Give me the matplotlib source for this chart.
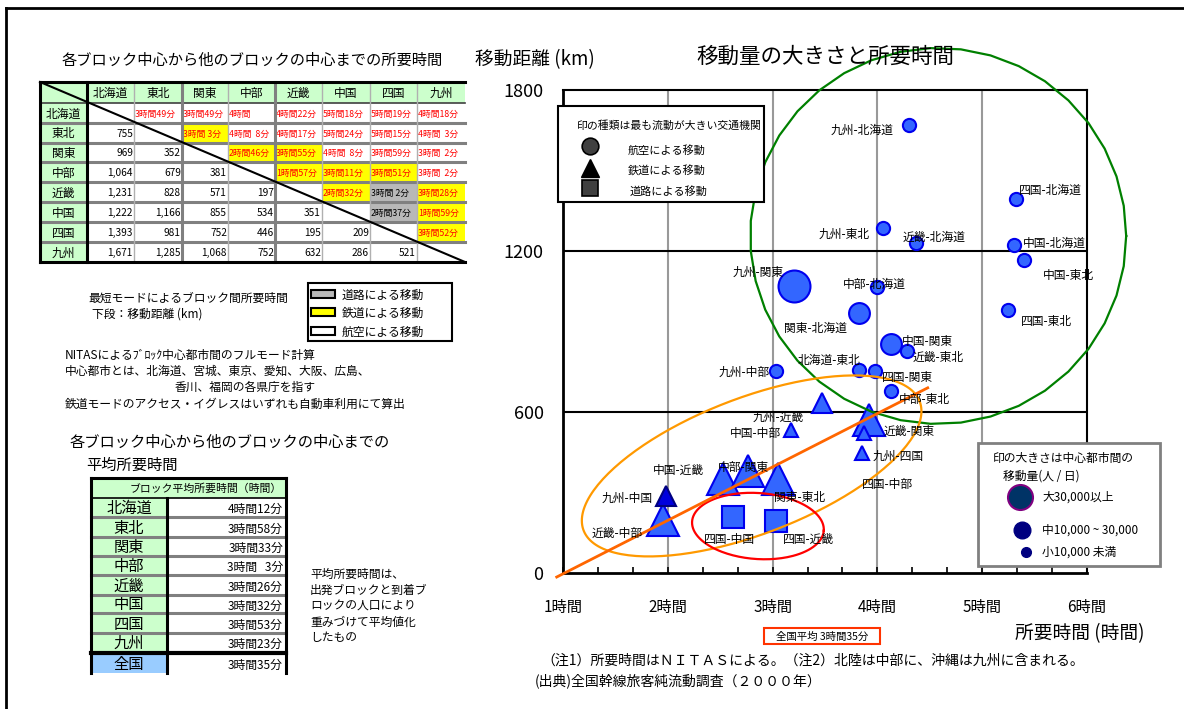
import numpy as np
import matplotlib
matplotlib.use('Agg')
import matplotlib.pyplot as plt
from matplotlib.patches import Rectangle

plt.rcParams['font.family'] = ['Noto Sans CJK JP', 'DejaVu Sans']

# ---------------- data ----------------
blocks = ['北海道', '東北', '関東', '中部', '近畿', '中国', '四国', '九州']

# upper triangle: shortest-mode travel time (row -> column)
times = [
    ['', '3時間49分', '3時間49分', '4時間', '4時間22分', '5時間18分', '5時間19分', '4時間18分'],
    ['', '', '3時間 3分', '4時間  8分', '4時間17分', '5時間24分', '5時間15分', '4時間  3分'],
    ['', '', '', '2時間46分', '3時間55分', '4時間  8分', '3時間59分', '3時間  2分'],
    ['', '', '', '', '1時間57分', '3時間11分', '3時間51分', '3時間  2分'],
    ['', '', '', '', '', '2時間32分', '3時間 2分', '3時間28分'],
    ['', '', '', '', '', '', '2時間37分', '1時間59分'],
    ['', '', '', '', '', '', '', '3時間52分'],
]
# shortest mode per cell: A air, R rail, D road
modes = [
    '.AAAAAAA',
    '..RAAAAA',
    '...RRAAA',
    '....RRRA',
    '.....RDR',
    '......DR',
    '.......R',
]
# lower triangle: distance (km)
dists = [
    [],
    [755],
    [969, 352],
    [1064, 679, 381],
    [1231, 828, 571, 197],
    [1222, 1166, 855, 534, 351],
    [1393, 981, 752, 446, 195, 209],
    [1671, 1285, 1068, 752, 632, 286, 521],
]
avg_time = ['4時間12分', '3時間58分', '3時間33分', '3時間   3分', '3時間26分',
            '3時間32分', '3時間53分', '3時間23分']
national_avg = '3時間35分'

# scatter: pairs, travel time (h), distance (km), main mode, flow class
pairs = ['九州-北海道', '四国-北海道', '中国-北海道', '中国-東北', '四国-東北', '九州-東北',
         '近畿-北海道', '中部-北海道', '九州-関東', '関東-北海道', '中国-関東', '近畿-東北',
         '北海道-東北', '四国-関東', '中部-東北', '九州-中部',
         '九州-近畿', '中国-中部', '近畿-関東', '九州-四国', '四国-中部', '中国-近畿',
         '中部-関東', '関東-東北', '九州-中国', '近畿-中部',
         '四国-中国', '四国-近畿']
hours = [4.30, 5.32, 5.30, 5.40, 5.25, 4.05, 4.37, 4.00, 3.20, 3.82, 4.13, 4.28,
         3.82, 3.98, 4.13, 3.03,
         3.47, 3.18, 3.92, 3.87, 3.85, 2.53, 2.77, 3.05, 1.98, 1.95,
         2.62, 3.03]
km = [1671, 1393, 1222, 1166, 981, 1285, 1231, 1064, 1068, 969, 855, 828,
      755, 752, 679, 752,
      632, 534, 571, 521, 446, 351, 381, 352, 286, 197,
      209, 195]
mode = ['air'] * 16 + ['rail'] * 10 + ['road'] * 2
flow = ['小'] * 8 + ['大', '中', '中'] + ['小'] * 5 + \
       ['中', '小', '大', '小', '小', '大', '大', '大', '中', '大'] + ['中', '中']

# hand-drawn trend line (h, km)
trend_h = [0.94, 4.48]
trend_km = [-15, 690]

# ---------------- styles / positions ----------------
W, H = 1184, 709
MARK = {'air': 'o', 'rail': '^', 'road': 's'}
SIZE = {'air': {'大': 23, '中': 15, '小': 9.5},
        'rail': {'大': 23, '中': 15, '小': 10},
        'road': {'大': 23, '中': 16, '小': 10}}
# label offsets in px: (left edge dx, centre dy downward)
LAB = {'九州-北海道': (-78, 6), '四国-北海道': (3, -9), '中国-北海道': (9, -2),
       '中国-東北': (19, 15), '四国-東北': (12, 12), '九州-東北': (-64, 6),
       '近畿-北海道': (-14, -5), '中部-北海道': (-35, -3), '九州-関東': (-61, -14),
       '関東-北海道': (-75, 15), '中国-関東': (11, -2), '近畿-東北': (6, 7),
       '北海道-東北': (-61, -10), '四国-関東': (7, 6), '中部-東北': (8, 9),
       '九州-中部': (-57, 1), '九州-近畿': (-69, 14), '中国-中部': (-62, 4),
       '近畿-関東': (15, 12), '九州-四国': (9, 23), '四国-中部': (0, 31),
       '中国-近畿': (-70, -8), '中部-関東': (-31, -3), '関東-東北': (-4, 19),
       '九州-中国': (-64, 2), '近畿-中部': (-71, 13), '四国-中国': (-29, 23),
       '四国-近畿': (7, 19)}

fig = plt.figure(figsize=(W / 100, H / 100), dpi=100)

# ---------------- scatter ----------------
AX_L, AX_R, AX_T, AX_B = 563, 1087, 90, 573
ax = fig.add_axes([AX_L / W, (H - AX_B) / H, (AX_R - AX_L) / W, (AX_B - AX_T) / H], zorder=1)
ax.set_xlim(1, 6)
ax.set_ylim(0, 1800)
PX_H = (AX_R - AX_L) / 5.0
PX_KM = (AX_B - AX_T) / 1800.0

for v in [2, 3, 4, 5]:
    ax.axvline(v, color='#999999', lw=1.5, zorder=1)
for v in [600, 1200]:
    ax.axhline(v, color='black', lw=1.5, zorder=1)

ax.set_xticks(range(1, 7))
ax.set_xticklabels(['%d時間' % i for i in range(1, 7)], fontsize=11)
ax.set_xticks(np.arange(1, 6.01, 1 / 3.0), minor=True)
ax.tick_params(axis='x', which='both', direction='in', length=4, width=1.2, pad=19)
ax.set_yticks([0, 600, 1200, 1800])
ax.set_yticklabels(['0', '600', '1200', '1800'], fontsize=13)
ax.tick_params(axis='y', length=0, pad=14)
for s in ['left', 'bottom']:
    ax.spines[s].set_linewidth(2)
for s in ['top', 'right']:
    ax.spines[s].set_linewidth(1.5)

order = sorted(range(len(pairs)), key=lambda i: -SIZE[mode[i]][flow[i]])
for z, i in enumerate(order):
    fc, ec = '#3366FF', '#0000EE'
    if pairs[i] == '九州-中国':
        fc, ec = '#0000DD', '#000080'
    ax.plot(hours[i], km[i], marker=MARK[mode[i]], ms=SIZE[mode[i]][flow[i]],
            mfc=fc, mec=ec, mew=1.5, ls='none', zorder=3 + z * 0.01, clip_on=False)
    dx, dy = LAB[pairs[i]]
    ax.annotate(pairs[i], (hours[i], km[i]), xytext=(dx, -dy), textcoords='offset pixels',
                ha='left', va='center', fontsize=8.5, zorder=6)


def ring(cx, cy, a, b, ang, color, n=200):
    t = np.linspace(0, 2 * np.pi, n)
    th = np.radians(ang)
    xp = a * np.cos(t) * np.cos(th) - b * np.sin(t) * np.sin(th)
    yp = a * np.cos(t) * np.sin(th) + b * np.sin(t) * np.cos(th)
    ax.plot(cx + xp / PX_H, cy + yp / PX_KM, color=color, lw=1.6, clip_on=False, zorder=5)


ring(4.58, 1256, 188, 188, 0, '#008000', n=40)
ring(2.80, 399, 180, 68, 21, '#FF9900')
ring(2.86, 175, 66, 33, -4, '#FF0000')
ax.plot(trend_h, trend_km, color='#FF6600', lw=2, clip_on=False, zorder=5)

# ---------------- overlay (pixel coords) ----------------
ov = fig.add_axes([0, 0, 1, 1], zorder=5)
ov.set_xlim(0, W)
ov.set_ylim(H, 0)
ov.axis('off')
ov.patch.set_alpha(0)

ov.plot([6, 6], [H, 8], color='black', lw=2)
ov.plot([6, W], [8, 8], color='black', lw=2)

ov.text(62, 60, '各ブロック中心から他のブロックの中心までの所要時間', fontsize=11, va='center')
ov.text(475, 60, '移動距離 (km)', fontsize=13.5, va='center')
ov.text(825, 57, '移動量の大きさと所要時間', fontsize=15.5, va='center', ha='center')
ov.text(1015, 634, '所要時間 (時間)', fontsize=13.5, va='center')

# table 1
xs = [40, 87, 134, 182, 228, 275, 322, 370, 417, 465]
ys = [82, 103, 123, 143, 162, 182, 202, 222, 242, 262]
GREEN = '#CCFFCC'
fillc = {'A': 'white', 'R': '#FFFF00', 'D': '#B8B8B8'}
ov.add_patch(Rectangle((xs[0], ys[0]), xs[1] - xs[0], ys[1] - ys[0], fc=GREEN, lw=0))
for j, b in enumerate(blocks):
    ov.add_patch(Rectangle((xs[j + 1], ys[0]), xs[j + 2] - xs[j + 1], ys[1] - ys[0], fc=GREEN, lw=0))
    ov.text((xs[j + 1] + xs[j + 2]) / 2, (ys[0] + ys[1]) / 2 + 1, b, ha='center', va='center', fontsize=8.5)
    ov.add_patch(Rectangle((xs[0], ys[j + 1]), xs[1] - xs[0], ys[j + 2] - ys[j + 1], fc=GREEN, lw=0))
    ov.text((xs[0] + xs[1]) / 2, (ys[j + 1] + ys[j + 2]) / 2 + 1, b, ha='center', va='center', fontsize=8.5)
for i in range(7):
    for j in range(i + 1, 8):
        m = modes[i][j]
        x0, y0 = xs[j + 1], ys[i + 1]
        ov.add_patch(Rectangle((x0, y0), xs[j + 2] - x0, ys[i + 2] - y0, fc=fillc[m], lw=0))
        ov.text(x0 + 1, (y0 + ys[i + 2]) / 2 + 1, times[i][j], ha='left', va='center',
                fontsize=6.3, color='black' if m == 'D' else '#FF0000')
for i in range(8):
    for j, d in enumerate(dists[i]):
        ov.text(xs[j + 2] - 1, (ys[i + 1] + ys[i + 2]) / 2 + 1, '{:,}'.format(d),
                ha='right', va='center', fontsize=7.3)
for y in ys[2:-1]:
    ov.plot([xs[0], xs[-1]], [y, y], color='#808080', lw=2.2, zorder=3)
ov.plot([xs[0], xs[-1]], [ys[1], ys[1]], color='#404040', lw=1.2, zorder=3)
for k, x in enumerate(xs[2:-1]):
    thick = x in (182, 275)
    ov.plot([x, x], [ys[0], ys[-1]], color='#808080' if thick else '#B0B0B0',
            lw=2.2 if thick else 1, zorder=3)
ov.plot([xs[1], xs[1]], [ys[0], ys[-1]], color='black', lw=2.2, zorder=4)
ov.plot([xs[0], xs[-1]], [ys[0], ys[0]], color='black', lw=2.2, zorder=4)
ov.plot([xs[0], xs[-1]], [ys[-1], ys[-1]], color='black', lw=2.2, zorder=4)
ov.plot([xs[0], xs[0]], [ys[0], ys[-1]], color='black', lw=2.2, zorder=4)
ov.plot([xs[0], xs[-1]], [ys[0], ys[-1]], color='black', lw=1.5, zorder=4)

# legend of table 1
ov.text(88, 298, '最短モードによるブロック間所要時間', fontsize=8.5, va='center')
ov.text(92, 314, '下段：移動距離 (km)', fontsize=8.5, va='center')
ov.add_patch(Rectangle((308, 283), 144, 58, fc='white', ec='black', lw=1.5))
for y, c, t in [(290, '#B8B8B8', '道路による移動'), (308, '#FFFF00', '鉄道による移動'),
                (327, 'white', '航空による移動')]:
    ov.add_patch(Rectangle((311, y), 24, 8, fc=c, ec='black', lw=1.5))
    ov.text(342, y + 5, t, fontsize=8.5, va='center')

ov.text(65, 355, 'NITASによるﾌﾞﾛｯｸ中心都市間のフルモード計算', fontsize=8.5, va='center')
ov.text(65, 371, '中心都市とは、北海道、宮城、東京、愛知、大阪、広島、', fontsize=8.5, va='center')
ov.text(175, 387, '香川、福岡の各県庁を指す', fontsize=8.5, va='center')
ov.text(65, 404, '鉄道モードのアクセス・イグレスはいずれも自動車利用にて算出', fontsize=8.5, va='center')

# table 2
ov.text(70, 442, '各ブロック中心から他のブロックの中心までの', fontsize=11, va='center')
ov.text(86, 465, '平均所要時間', fontsize=11, va='center')
tx = [91, 167, 286]
ty = [498, 517, 537, 556, 575, 595, 613, 633, 652]
ov.add_patch(Rectangle((tx[0], 478), tx[2] - tx[0], 20, fc=GREEN, lw=0))
ov.text(206, 489, 'ブロック平均所要時間（時間）', fontsize=7.8, ha='center', va='center')
for i, b in enumerate(blocks):
    ov.add_patch(Rectangle((tx[0], ty[i]), tx[1] - tx[0], ty[i + 1] - ty[i], fc=GREEN, lw=0))
    ov.text((tx[0] + tx[1]) / 2, (ty[i] + ty[i + 1]) / 2 + 1, b, ha='center', va='center', fontsize=11)
    ov.text(283, (ty[i] + ty[i + 1]) / 2 + 2, avg_time[i], ha='right', va='center', fontsize=8.5)
ov.add_patch(Rectangle((tx[0], 655), tx[1] - tx[0], 18, fc='#99CCFF', lw=0))
ov.text((tx[0] + tx[1]) / 2, 665, '全国', ha='center', va='center', fontsize=11)
ov.text(283, 665, national_avg, ha='right', va='center', fontsize=8.5)
for y in ty[1:-1]:
    ov.plot([tx[0], tx[2]], [y, y], color='#808080', lw=2.2, zorder=3)
ov.plot([tx[0], tx[2]], [653, 653], color='black', lw=3, zorder=4)
ov.plot([tx[0], tx[2]], [478, 478], color='black', lw=2.2, zorder=4)
ov.plot([tx[0], tx[2]], [498, 498], color='black', lw=1.2, zorder=4)
ov.plot([tx[0], tx[0]], [478, 673], color='black', lw=2.2, zorder=4)
ov.plot([tx[2], tx[2]], [478, 673], color='black', lw=2.2, zorder=4)
ov.plot([tx[1], tx[1]], [498, 673], color='black', lw=2.2, zorder=4)

for k, t in enumerate(['平均所要時間は、', '出発ブロックと到着ブ', 'ロックの人口により',
                       '重みづけて平均値化', 'したもの']):
    ov.text(310, 574 + k * 16, t, fontsize=8.5, va='center')

# scatter legends
ov.add_patch(Rectangle((558, 106), 206, 96, fc='white', ec='black', lw=1.5))
ov.text(577, 126, '印の種類は最も流動が大きい交通機関', fontsize=7.8, va='center')
ov.plot(590, 146, 'o', ms=12, mfc='#404040', mec='black', mew=1.2)
ov.plot(590, 168, '^', ms=13, mfc='black', mec='black')
ov.plot(590, 188, 's', ms=12, mfc='#404040', mec='black', mew=1.2)
ov.text(628, 151, '航空による移動', fontsize=8, va='center')
ov.text(628, 171, '鉄道による移動', fontsize=8, va='center')
ov.text(630, 191, '道路による移動', fontsize=8, va='center')

ov.add_patch(Rectangle((978, 443), 182, 123, fc='white', ec='#808080', lw=2))
ov.text(993, 458, '印の大きさは中心都市間の', fontsize=8.5, va='center')
ov.text(1003, 476, '移動量(人 / 日)', fontsize=8.5, va='center')
ov.plot(1020, 497, 'o', ms=18, mfc='#003366', mec='#800080', mew=1.5)
ov.plot(1022, 530, 'o', ms=12, mfc='#000080', mec='#000080')
ov.plot(1026, 552, 'o', ms=7, mfc='#000080', mec='#000080')
ov.text(1042, 497, '大30,000以上', fontsize=8.5, va='center')
ov.text(1042, 530, '中10,000 ~ 30,000', fontsize=8.5, va='center')
ov.text(1042, 552, '小10,000 未満', fontsize=8.5, va='center')

ov.add_patch(Rectangle((764, 628), 116, 16, fc='none', ec='#FF3300', lw=1.5))
ov.text(822, 637, '全国平均 3時間35分', fontsize=7.5, ha='center', va='center')

ov.text(541, 661, '（注1）所要時間はＮＩＴＡＳによる。（注2）北陸は中部に、沖縄は九州に含まれる。',
        fontsize=10, va='center')
ov.text(535, 681, '(出典)全国幹線旅客純流動調査（２０００年）', fontsize=10, va='center')

fig.savefig('out.png', dpi=100)
